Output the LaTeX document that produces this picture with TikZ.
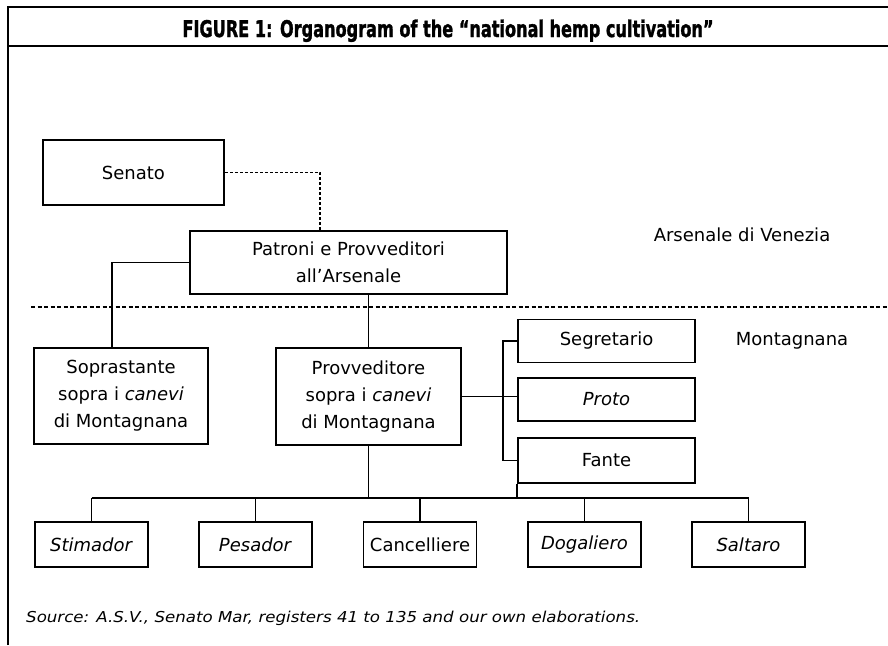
\documentclass[tikz,border=0pt]{standalone}
\usepackage{fontspec}
\setmainfont{DejaVu Sans}
\newfontfamily\titlefont{DejaVu Sans}[BoldFeatures={FakeBold=1.6}]
\usepackage{graphicx}
\begin{document}
\begin{tikzpicture}[x=1pt,y=-1pt,
  box/.style={draw,line width=1.8pt,inner sep=0pt,align=center,font=\fontsize{18}{27}\selectfont},
  small/.style={minimum width=177pt,minimum height=43pt},
  bot/.style={minimum width=113pt,minimum height=45pt},
  conn/.style={line width=1.8pt},
  thin/.style={line width=1.3pt},
  lbl/.style={inner sep=0pt,font=\fontsize{18}{22}\selectfont}]
\useasboundingbox (0,0) rectangle (888,645);
% frame
\coordinate (fbl) at (8,645);
\coordinate (ftl) at (8,7);
\coordinate (ftr) at (888,7);
\coordinate (frl) at (8,46);
\coordinate (frr) at (888,46);
\draw[line width=1.8pt] (fbl) -- (ftl) -- (ftr);
\draw[line width=1.6pt] (frl) -- (frr);
\node[anchor=base,inner sep=0pt] (title) at (448,37)
  {\resizebox{531pt}{\height}{\fontsize{23}{28}\selectfont\titlefont\bfseries FIGURE 1: Organogram of the “national hemp cultivation”}};
% boxes
\node[box,minimum width=181pt,minimum height=65pt] (senato) at (133.5,172.5) {Senato};
\node[box,minimum width=317pt,minimum height=63pt] (patroni) at (348.5,262.5) {Patroni e Provveditori\\all’Arsenale};
\node[box,minimum width=174pt,minimum height=96pt] (sopr) at (121,396) {Soprastante\\sopra i \textit{canevi}\\di Montagnana};
\node[box,minimum width=185pt,minimum height=97pt] (prov) at (368.5,396.5) {Provveditore\\sopra i \textit{canevi}\\di Montagnana};
\node[box,small] (seg) at (606.5,341) {Segretario};
\node[box,small] (proto) at (606.5,399.5) {\textit{Proto}};
\node[box,small,minimum height=45pt] (fante) at (606.5,460.5) {Fante};
\node[box,bot] (stim) at (91.5,544.5) {\textit{Stimador}};
\node[box,bot] (pes) at (255.5,544.5) {\textit{Pesador}};
\node[box,bot] (canc) at (420,544.5) {Cancelliere};
\node[box,bot] (dog) at (584.5,544.5) {\textit{Dogaliero}};
\node[box,bot] (salt) at (748.5,544.5) {\textit{Saltaro}};
% labels
\node[lbl] (arsenale) at (742,235) {Arsenale di Venezia};
\node[lbl] (montagnana) at (792,341) {Montagnana};
\node[anchor=base west,inner sep=0pt] (source) at (26,622)
  {\resizebox{614pt}{\height}{\fontsize{15}{18}\selectfont\itshape Source: A.S.V., Senato Mar, registers 41 to 135 and our own elaborations.}};
% separator
\coordinate (dl) at (31,307);
\coordinate (dr) at (888,307);
\draw[line width=1.2pt,dash pattern=on 4pt off 2.5pt] (dl) -- (dr);
% connectors
\draw[line width=1.6pt,dash pattern=on 3pt off 2pt] (senato.east) -| ([xshift=-28.5pt]patroni.north);
\draw[conn] (patroni.west) -| ([xshift=-9pt]sopr.north);
\draw[conn] (prov.north |- patroni.south) -- (prov.north);
\draw[thin] (prov.east) -- (prov.east -| proto.west);
\draw[thin] (seg.west) -- ++(-14,0) |- (fante.west);
\coordinate (bus) at (0,498);
\draw[conn] (stim.north |- bus) -- (salt.north |- bus);
\draw[conn] (prov.south) -- (prov.south |- bus);
\draw[thin] (fante.south west) -- (fante.south west |- bus);
\foreach \n in {stim,pes,canc,dog,salt}{
  \draw[thin] (\n.north |- bus) -- (\n.north);
}
\end{tikzpicture}
\end{document}
